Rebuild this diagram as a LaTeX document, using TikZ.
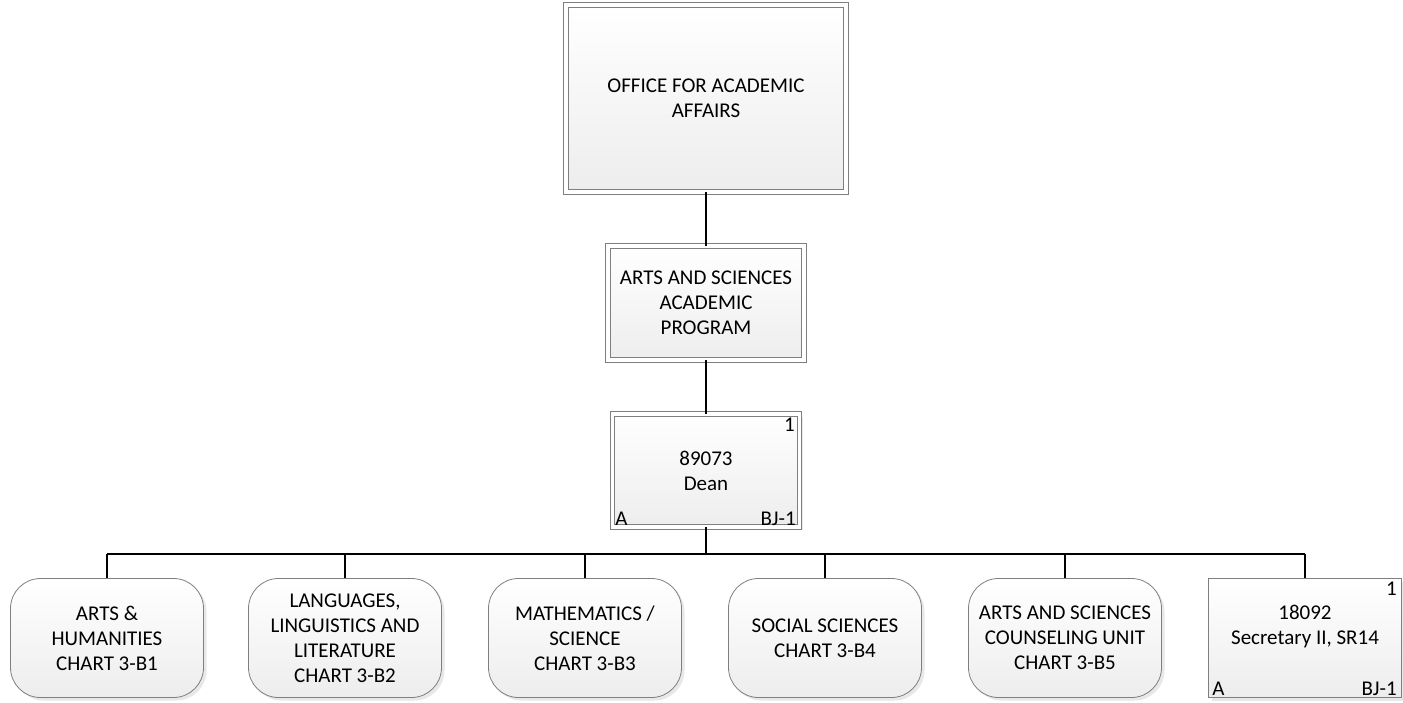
\documentclass[tikz,border=0pt]{standalone}
\usepackage{fontspec}
\setmainfont{Carlito}
\usepackage{tikz}
\usetikzlibrary{calc}
\usetikzlibrary{shadows}
\definecolor{boxline}{HTML}{7F7F7F}
\definecolor{boxfill}{HTML}{EDEDED}
\tikzset{
	orgbox/.style={rectangle,draw=boxline,line width=0.8pt,top color=white,bottom color=boxfill,
		align=center,inner sep=2pt,font=\fontsize{21}{25}\selectfont,
		drop shadow={opacity=0.18,shadow xshift=3pt,shadow yshift=-3pt}},
	dblbox/.style={orgbox,double=white,double distance=3.5pt},
	unitbox/.style={orgbox,rounded corners=30pt,minimum width=193pt,minimum height=119pt},
	corner/.style={inner sep=1pt,font=\fontsize{21}{25}\selectfont},
	link/.style={line width=1.4pt,black}
}
\begin{document}
\begin{tikzpicture}[x=1pt,y=-1pt]
		\useasboundingbox (0,0) rectangle (1403,702);

		% upper chain
		\node[dblbox,minimum width=280pt,minimum height=187pt] (office) at (706,98.5) {OFFICE FOR ACADEMIC\\AFFAIRS};
		\node[dblbox,minimum width=196pt,minimum height=114pt] (program) at (706,303) {ARTS AND SCIENCES\\ACADEMIC\\PROGRAM};
		\node[dblbox,minimum width=187pt,minimum height=113pt] (dean) at (706,470.5) {89073\\Dean};
		\node[corner,anchor=north east] (deanno) at ([xshift=-4pt,yshift=-3pt]dean.north east) {1};
		\node[corner,anchor=south west] (deana) at ([xshift=2pt,yshift=1pt]dean.south west) {A};
		\node[corner,anchor=south east] (deanbj) at ([xshift=-3pt,yshift=1pt]dean.south east) {BJ-1};

		% units
		\node[unitbox] (arts) at (107,638) {ARTS \&\\HUMANITIES\\CHART 3-B1};
		\node[unitbox] (lang) at (345,638) {LANGUAGES,\\LINGUISTICS AND\\LITERATURE\\CHART 3-B2};
		\node[unitbox] (math) at (585,638) {MATHEMATICS /\\SCIENCE\\CHART 3-B3};
		\node[unitbox] (social) at (825,638) {SOCIAL SCIENCES\\CHART 3-B4};
		\node[unitbox] (couns) at (1065,638) {ARTS AND SCIENCES\\COUNSELING UNIT\\CHART 3-B5};
		\node[orgbox,minimum width=193pt,minimum height=119pt] (sec) at (1305,638) {};
		\node[corner,align=center] (sectext) at ([yshift=11pt]sec.center) {18092\\Secretary II, SR14};
		\node[corner,anchor=north east] (secno) at ([xshift=-4pt,yshift=-3pt]sec.north east) {1};
		\node[corner,anchor=south west] (seca) at ([xshift=3pt,yshift=1pt]sec.south west) {A};
		\node[corner,anchor=south east] (secbj) at ([xshift=-4pt,yshift=1pt]sec.south east) {BJ-1};

		\coordinate (bus) at (706,554);

		\draw[link] (office.south) -- (program.north);
		\draw[link] (program.south) -- (dean.north);
		\draw[link] (dean.south) -- (bus);
		\draw[link] (bus -| arts.north) -- (bus -| sec.north);
		\foreach \u in {arts,lang,math,social,couns,sec}
			\draw[link] (bus -| \u.north) -- (\u.north);
	\end{tikzpicture}
\end{document}
